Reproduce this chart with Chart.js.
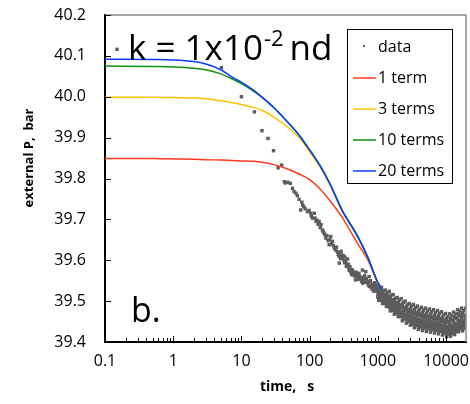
<!DOCTYPE html>
<html>
<head>
<meta charset="utf-8">
<script src="https://cdn.jsdelivr.net/npm/chart.js@4.4.1/dist/chart.umd.min.js"></script>
<style>
  html, body { margin: 0; padding: 0; background: #fff; }
  #wrap { width: 470px; height: 404px; }
</style>
</head>
<body>
<div id="wrap"><canvas id="myChart" width="470" height="404"></canvas></div>
<script>
// tick labels
const timeTicks = [0.1, 1, 10, 100, 1000, 10000];
const pTicks = [39.4, 39.5, 39.6, 39.7, 39.8, 39.9, 40.0, 40.1, 40.2];

// model curves (time in s, pressure in bar)
const curveTime = [0.1, 0.5, 1, 2, 3, 5, 7, 10, 15, 20, 30, 50, 70, 100, 150, 200, 300, 500, 700, 1000, 1150];
const term1P  = [39.849, 39.849, 39.848, 39.847, 39.846, 39.845, 39.844, 39.843, 39.842, 39.840, 39.834, 39.822, 39.811, 39.797, 39.770, 39.745, 39.705, 39.642, 39.603, 39.545, 39.527];
const term3P  = [39.999, 39.999, 39.998, 39.997, 39.995, 39.990, 39.986, 39.981, 39.974, 39.967, 39.950, 39.923, 39.900, 39.865, 39.822, 39.783, 39.720, 39.658, 39.608, 39.543, 39.525];
const term10P = [40.075, 40.074, 40.073, 40.070, 40.066, 40.056, 40.045, 40.032, 40.014, 39.999, 39.973, 39.934, 39.906, 39.870, 39.825, 39.786, 39.722, 39.660, 39.610, 39.545, 39.526];
const term20P = [40.092, 40.091, 40.090, 40.086, 40.080, 40.066, 40.050, 40.036, 40.016, 39.999, 39.973, 39.934, 39.906, 39.870, 39.825, 39.786, 39.722, 39.660, 39.610, 39.545, 39.526];

// measured data, sparse part [time, P]
const earlyData = [
  [0.15, 40.116], [5.1, 40.071], [10, 40.0], [15.5, 39.963], [20, 39.917], [24.5, 39.898],
  [29.5, 39.868], [34.5, 39.826], [39, 39.833], [42.5, 39.792], [44, 39.789], [48, 39.791],
  [52, 39.788], [56, 39.776], [59, 39.768], [63, 39.764], [66, 39.758], [70, 39.749], [74, 39.723],
  [77, 39.742], [79, 39.735], [82, 39.731], [86, 39.726], [93, 39.719], [98, 39.722], [104, 39.715],
  [106, 39.708], [110, 39.703], [117, 39.715], [120, 39.703], [124, 39.695], [128, 39.698], [133, 39.688],
  [138, 39.695], [143, 39.680], [147, 39.687], [154, 39.674], [158, 39.670], [163, 39.666], [168, 39.662],
  [173, 39.654], [180, 39.660], [186, 39.648], [193, 39.638], [198, 39.650], [204, 39.658], [210, 39.640],
  [216, 39.646], [222, 39.636], [230, 39.630], [240, 39.625], [248, 39.632], [255, 39.621], [262, 39.614],
  [270, 39.609], [272, 39.593], [280, 39.618], [285, 39.604], [290, 39.622], [295, 39.612], [300, 39.605],
  [310, 39.612], [320, 39.600], [325, 39.594], [330, 39.608], [337, 39.597], [345, 39.585], [350, 39.590],
  [360, 39.603], [370, 39.590], [378, 39.581], [380, 39.575], [390, 39.584], [400, 39.572], [410, 39.566],
  [420, 39.577], [422, 39.564], [435, 39.572], [450, 39.566], [460, 39.561], [470, 39.552], [480, 39.571],
  [490, 39.566], [500, 39.560], [515, 39.553], [530, 39.568], [545, 39.560], [560, 39.556], [580, 39.548],
  [595, 39.576], [600, 39.544], [610, 39.558], [620, 39.550], [640, 39.562], [650, 39.546], [665, 39.572],
  [680, 39.555], [700, 39.548], [720, 39.540], [745, 39.560], [750, 39.536], [760, 39.548], [780, 39.550],
  [800, 39.534], [820, 39.542], [826, 39.528], [850, 39.540], [870, 39.536], [880, 39.524], [900, 39.545],
  [920, 39.530], [940, 39.538], [960, 39.530], [980, 39.524], [990, 39.533]
];

// measured data, dense part: times and four readings across the band
const lateTime = [1000, 1030, 1060, 1100, 1130, 1170, 1210, 1250, 1290, 1330, 1370, 1420, 1470, 1520, 1570, 1620,
  1680, 1740, 1800, 1860, 1920, 1990, 2060, 2130, 2200, 2280, 2360, 2440, 2520, 2610, 2700, 2790, 2890, 2990,
  3090, 3200, 3310, 3420, 3540, 3660, 3790, 3920, 4050, 4190, 4340, 4490, 4640, 4800, 4970,
  5140, 5320, 5500, 5690, 5890, 6090, 6300, 6520, 6750, 6980, 7220, 7470, 7730, 8000, 8280, 8560, 8860, 9170, 9480, 9810,
  10150, 10500, 10860, 11240, 11630, 12030, 12440, 12870, 13320, 13780, 14250, 14740, 15250, 15780, 16320, 16890, 17470, 18070, 18700, 19340];
const lateP1 = [39.541, 39.532, 39.534, 39.524, 39.534, 39.524, 39.526, 39.516, 39.527, 39.517, 39.520, 39.511, 39.524, 39.512, 39.515, 39.503,
  39.516, 39.504, 39.507, 39.496, 39.509, 39.498, 39.503, 39.490, 39.506, 39.493, 39.497, 39.484, 39.500, 39.487, 39.491, 39.479, 39.494, 39.482,
  39.488, 39.475, 39.492, 39.479, 39.484, 39.471, 39.488, 39.475, 39.480, 39.468, 39.485, 39.472, 39.478, 39.465, 39.483,
  39.470, 39.476, 39.463, 39.481, 39.468, 39.474, 39.461, 39.479, 39.466, 39.472, 39.459, 39.477, 39.464, 39.470, 39.457, 39.474, 39.461, 39.466, 39.453, 39.470,
  39.457, 39.462, 39.450, 39.469, 39.458, 39.465, 39.454, 39.473, 39.462, 39.469, 39.459, 39.479, 39.469, 39.476, 39.465, 39.483, 39.471, 39.477, 39.465, 39.483];
const lateP2 = [39.525, 39.530, 39.518, 39.522, 39.518, 39.522, 39.510, 39.514, 39.511, 39.515, 39.504, 39.509, 39.505, 39.510, 39.496, 39.501,
  39.497, 39.502, 39.488, 39.494, 39.490, 39.496, 39.482, 39.488, 39.484, 39.490, 39.476, 39.482, 39.478, 39.484, 39.470, 39.477, 39.472, 39.479,
  39.464, 39.473, 39.468, 39.476, 39.460, 39.469, 39.464, 39.472, 39.456, 39.466, 39.461, 39.469, 39.454, 39.463, 39.459,
  39.467, 39.452, 39.461, 39.457, 39.465, 39.450, 39.459, 39.455, 39.463, 39.448, 39.457, 39.453, 39.461, 39.446, 39.455, 39.450, 39.458, 39.442, 39.451, 39.446,
  39.454, 39.438, 39.448, 39.445, 39.455, 39.441, 39.452, 39.449, 39.459, 39.445, 39.457, 39.455, 39.466, 39.452, 39.463, 39.459, 39.468, 39.453, 39.463, 39.459];
const lateP3 = [39.515, 39.518, 39.508, 39.512, 39.508, 39.510, 39.500, 39.504, 39.501, 39.503, 39.494, 39.497, 39.493, 39.495, 39.484, 39.489,
  39.485, 39.487, 39.476, 39.482, 39.478, 39.481, 39.468, 39.474, 39.471, 39.474, 39.462, 39.468, 39.465, 39.468, 39.456, 39.463, 39.459, 39.463,
  39.450, 39.457, 39.454, 39.459, 39.446, 39.453, 39.450, 39.455, 39.442, 39.450, 39.447, 39.452, 39.440, 39.447, 39.445,
  39.450, 39.438, 39.445, 39.443, 39.448, 39.436, 39.443, 39.441, 39.446, 39.434, 39.441, 39.439, 39.444, 39.432, 39.439, 39.436, 39.441, 39.428, 39.435, 39.432,
  39.437, 39.424, 39.432, 39.431, 39.438, 39.427, 39.436, 39.435, 39.442, 39.431, 39.441, 39.441, 39.449, 39.438, 39.447, 39.445, 39.451, 39.439, 39.447, 39.445];
const lateP4 = [39.509, 39.502, 39.504, 39.508, 39.502, 39.494, 39.496, 39.500, 39.495, 39.487, 39.490, 39.492, 39.485, 39.476, 39.479, 39.484,
  39.477, 39.468, 39.471, 39.477, 39.470, 39.462, 39.463, 39.469, 39.462, 39.452, 39.457, 39.463, 39.456, 39.446, 39.451, 39.458, 39.450, 39.441,
  39.444, 39.451, 39.444, 39.435, 39.440, 39.447, 39.440, 39.431, 39.436, 39.444, 39.437, 39.428, 39.434, 39.441, 39.435,
  39.426, 39.432, 39.439, 39.433, 39.424, 39.430, 39.437, 39.431, 39.422, 39.428, 39.435, 39.429, 39.420, 39.426, 39.433, 39.426, 39.417, 39.422, 39.429, 39.422,
  39.413, 39.418, 39.426, 39.421, 39.414, 39.421, 39.430, 39.425, 39.418, 39.425, 39.435, 39.431, 39.425, 39.432, 39.441, 39.435, 39.427, 39.433, 39.441, 39.435];

const FONT = "'Open Sans', 'DejaVu Sans', sans-serif";

function curve(times, values) {
    return times.map((t, i) => ({ x: t, y: values[i] }));
}

function measuredPoints() {
    const pts = earlyData.map(d => ({ x: d[0], y: d[1] }));
    [lateP1, lateP2, lateP3, lateP4].forEach(row => {
        lateTime.forEach((t, i) => pts.push({ x: t, y: row[i] }));
    });
    return pts;
}

// axis frame, inward tick marks, titles, annotation and legend
const decorPlugin = {
    id: 'decor',
    afterDraw(chart) {
        const { ctx, chartArea: a, scales: { x, y } } = chart;
        ctx.save();

        // grey top and right frame
        ctx.strokeStyle = '#8a8a8a';
        ctx.lineWidth = 1.5;
        ctx.beginPath();
        ctx.moveTo(a.left, a.top);
        ctx.lineTo(a.right, a.top);
        ctx.lineTo(a.right, a.bottom);
        ctx.stroke();

        // inward ticks
        ctx.strokeStyle = '#000';
        ctx.lineWidth = 1;
        ctx.beginPath();
        timeTicks.forEach(d => {
            for (let m = 1; m <= 9; m++) {
                const v = d * m;
                if (v > x.max) break;
                const px = Math.round(x.getPixelForValue(v)) + 0.5;
                const len = m === 1 ? 6 : 4;
                ctx.moveTo(px, a.bottom);
                ctx.lineTo(px, a.bottom - len);
            }
        });
        pTicks.forEach(p => {
            const py = Math.round(y.getPixelForValue(p)) + 0.5;
            ctx.moveTo(a.left, py);
            ctx.lineTo(a.left + 6, py);
        });
        ctx.stroke();

        // axis titles
        ctx.fillStyle = '#000';
        ctx.font = 'bold 14px ' + FONT;
        ctx.textAlign = 'center';
        ctx.textBaseline = 'alphabetic';
        ctx.fillText('time,   s', 287, 391);
        ctx.save();
        ctx.translate(33, 158);
        ctx.rotate(-Math.PI / 2);
        ctx.font = 'bold 13px ' + FONT;
        ctx.fillText('external P,  bar', 0, 0);
        ctx.restore();

        // annotations
        ctx.textAlign = 'left';
        ctx.font = '35px ' + FONT;
        let tx = 128;
        ctx.fillText('k = 1x10', tx, 60);
        tx += ctx.measureText('k = 1x10').width + 1;
        ctx.font = '22px ' + FONT;
        ctx.fillText('-2', tx, 46);
        tx += ctx.measureText('-2').width + 6;
        ctx.font = '35px ' + FONT;
        ctx.fillText('nd', tx, 60);
        ctx.font = '34px ' + FONT;
        ctx.fillText('b.', 131, 322);

        // legend
        const box = { left: 347.5, top: 29.5, w: 105, h: 154 };
        ctx.fillStyle = '#fff';
        ctx.fillRect(box.left, box.top, box.w, box.h);
        ctx.strokeStyle = '#000';
        ctx.lineWidth = 1;
        ctx.strokeRect(box.left, box.top, box.w, box.h);
        ctx.font = '16px ' + FONT;
        ctx.textBaseline = 'middle';
        chart.data.datasets.forEach((ds, i) => {
            const ly = 47 + i * 31;
            if (ds.showLine) {
                ctx.strokeStyle = ds.borderColor;
                ctx.lineWidth = 1.5;
                ctx.beginPath();
                ctx.moveTo(353, ly);
                ctx.lineTo(376, ly);
                ctx.stroke();
            } else {
                ctx.fillStyle = ds.backgroundColor;
                ctx.fillRect(363, ly - 2, 2, 2);
            }
            ctx.fillStyle = '#000';
            ctx.fillText(ds.label, 378, ly);
        });
        ctx.restore();
    }
};

function lineSet(label, values, color, order) {
    return {
        label: label,
        data: curve(curveTime, values),
        showLine: true,
        borderColor: color,
        backgroundColor: color,
        borderWidth: 1.5,
        pointRadius: 0,
        cubicInterpolationMode: 'monotone',
        order: order
    };
}

document.addEventListener('DOMContentLoaded', () => {
    const ctx = document.getElementById('myChart').getContext('2d');
    new Chart(ctx, {
        type: 'scatter',
        data: {
            datasets: [
                {
                    label: 'data',
                    data: measuredPoints(),
                    showLine: false,
                    pointStyle: 'rect',
                    pointRadius: 2.4,
                    borderWidth: 0,
                    backgroundColor: '#5c5c5c',
                    borderColor: '#5c5c5c',
                    order: 5
                },
                lineSet('1 term', term1P, '#ff3b1e', 4),
                lineSet('3 terms', term3P, '#ffc000', 3),
                lineSet('10 terms', term10P, '#109010', 2),
                lineSet('20 terms', term20P, '#0a3cff', 1)
            ]
        },
        options: {
            responsive: false,
            animation: false,
            events: [],
            layout: { padding: { top: 15, right: 3, bottom: 0, left: 0 } },
            plugins: { legend: { display: false }, tooltip: { enabled: false } },
            scales: {
                x: {
                    type: 'logarithmic',
                    min: 0.1,
                    max: 19600,
                    afterBuildTicks: scale => { scale.ticks = timeTicks.map(v => ({ value: v })); },
                    afterFit: scale => {
                        scale.height = 62;
                        scale.paddingLeft = 0;
                        scale.paddingRight = 0;
                    },
                    grid: { display: false, drawTicks: false },
                    border: { display: true, color: '#000', width: 2 },
                    ticks: {
                        autoSkip: false,
                        maxRotation: 0,
                        padding: 10,
                        color: '#000',
                        font: { family: FONT, size: 16 },
                        callback: v => String(v)
                    }
                },
                y: {
                    min: 39.4,
                    max: 40.2,
                    afterBuildTicks: scale => { scale.ticks = pTicks.map(v => ({ value: v })); },
                    afterFit: scale => {
                        scale.width = 105;
                        scale.paddingTop = 0;
                        scale.paddingBottom = 0;
                    },
                    grid: { display: false, drawTicks: false },
                    border: { display: true, color: '#000', width: 2 },
                    ticks: {
                        padding: 19,
                        color: '#000',
                        font: { family: FONT, size: 16 },
                        callback: v => Number(v).toFixed(1)
                    }
                }
            }
        },
        plugins: [decorPlugin]
    });
});
</script>
</body>
</html>
